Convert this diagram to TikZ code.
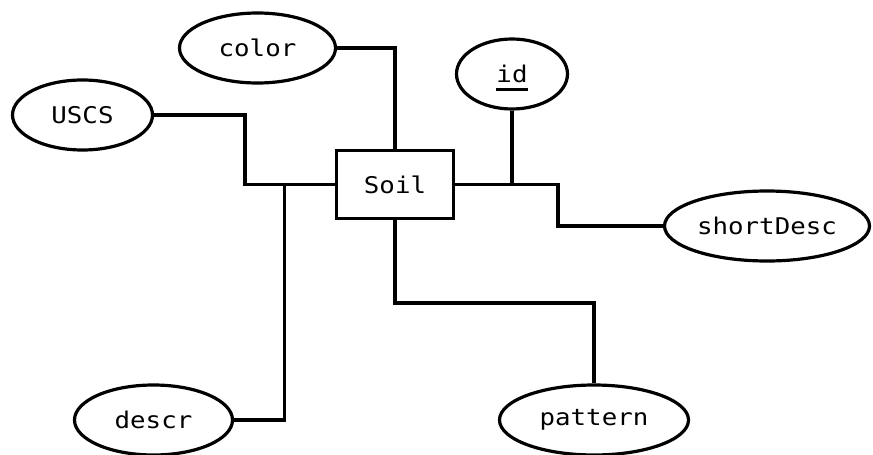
\documentclass[tikz,border=0pt]{standalone}
\usepackage{fontspec}
\usetikzlibrary{shapes.geometric}
\newfontfamily\erfont[FakeStretch=1.12]{DejaVu Sans Mono}
% key attribute: text with a heavy underline that does not change the box size
\newcommand\pkey[1]{\setbox0=\hbox{#1}\rlap{\smash{\raisebox{-8pt}{\rule{\wd0}{2.6pt}}}}\box0}
\begin{document}
\begin{tikzpicture}[x=1pt,y=-1pt,
  every node/.style={font=\erfont\fontsize{23}{27}\selectfont, text=black},
  entity/.style={draw, line width=3.5pt, rectangle, inner sep=0pt,
    minimum width=117pt, minimum height=68pt},
  attr/.style={draw, line width=3.2pt, ellipse, inner sep=0pt, minimum height=70pt},
  link/.style={draw, line width=3.5pt, line join=miter}]
\useasboundingbox (0,0) rectangle (873,455);

% entity and its attributes
\node[entity] (soil) at (395,184.5) {Soil};
\node[attr, minimum width=156pt] (color) at (257.5,48) {color};
\node[attr, minimum width=140pt] (uscs) at (82.5,115) {USCS};
\node[attr, minimum width=111pt] (id) at (512,74) {\pkey{id}};
\node[attr, minimum width=205pt] (short) at (767,226) {shortDesc};
\node[attr, minimum width=158pt] (descr) at (153.5,420) {descr};
\node[attr, minimum width=189pt] (pattern) at (594,420) {pattern};

% bend points of the orthogonal connectors
\coordinate (uscsbend) at (245,184.5);
\coordinate (descrbend) at (284.5,184.5);
\coordinate (shortbend) at (558,210);
\coordinate (patbend) at (395,303);

% connectors
\draw[link] (color.east) -| (soil.north);
\draw[link] (uscs.east) -| (uscsbend) -- (soil.west);
\draw[link] (descr.east) -| (descrbend);
\draw[link] (id.south) -- (id.south |- soil.east);
\draw[link] (soil.east) -| (shortbend) |- (short.west);
\draw[link] (soil.south) -- (patbend) -| (pattern.north);
\end{tikzpicture}
\end{document}
